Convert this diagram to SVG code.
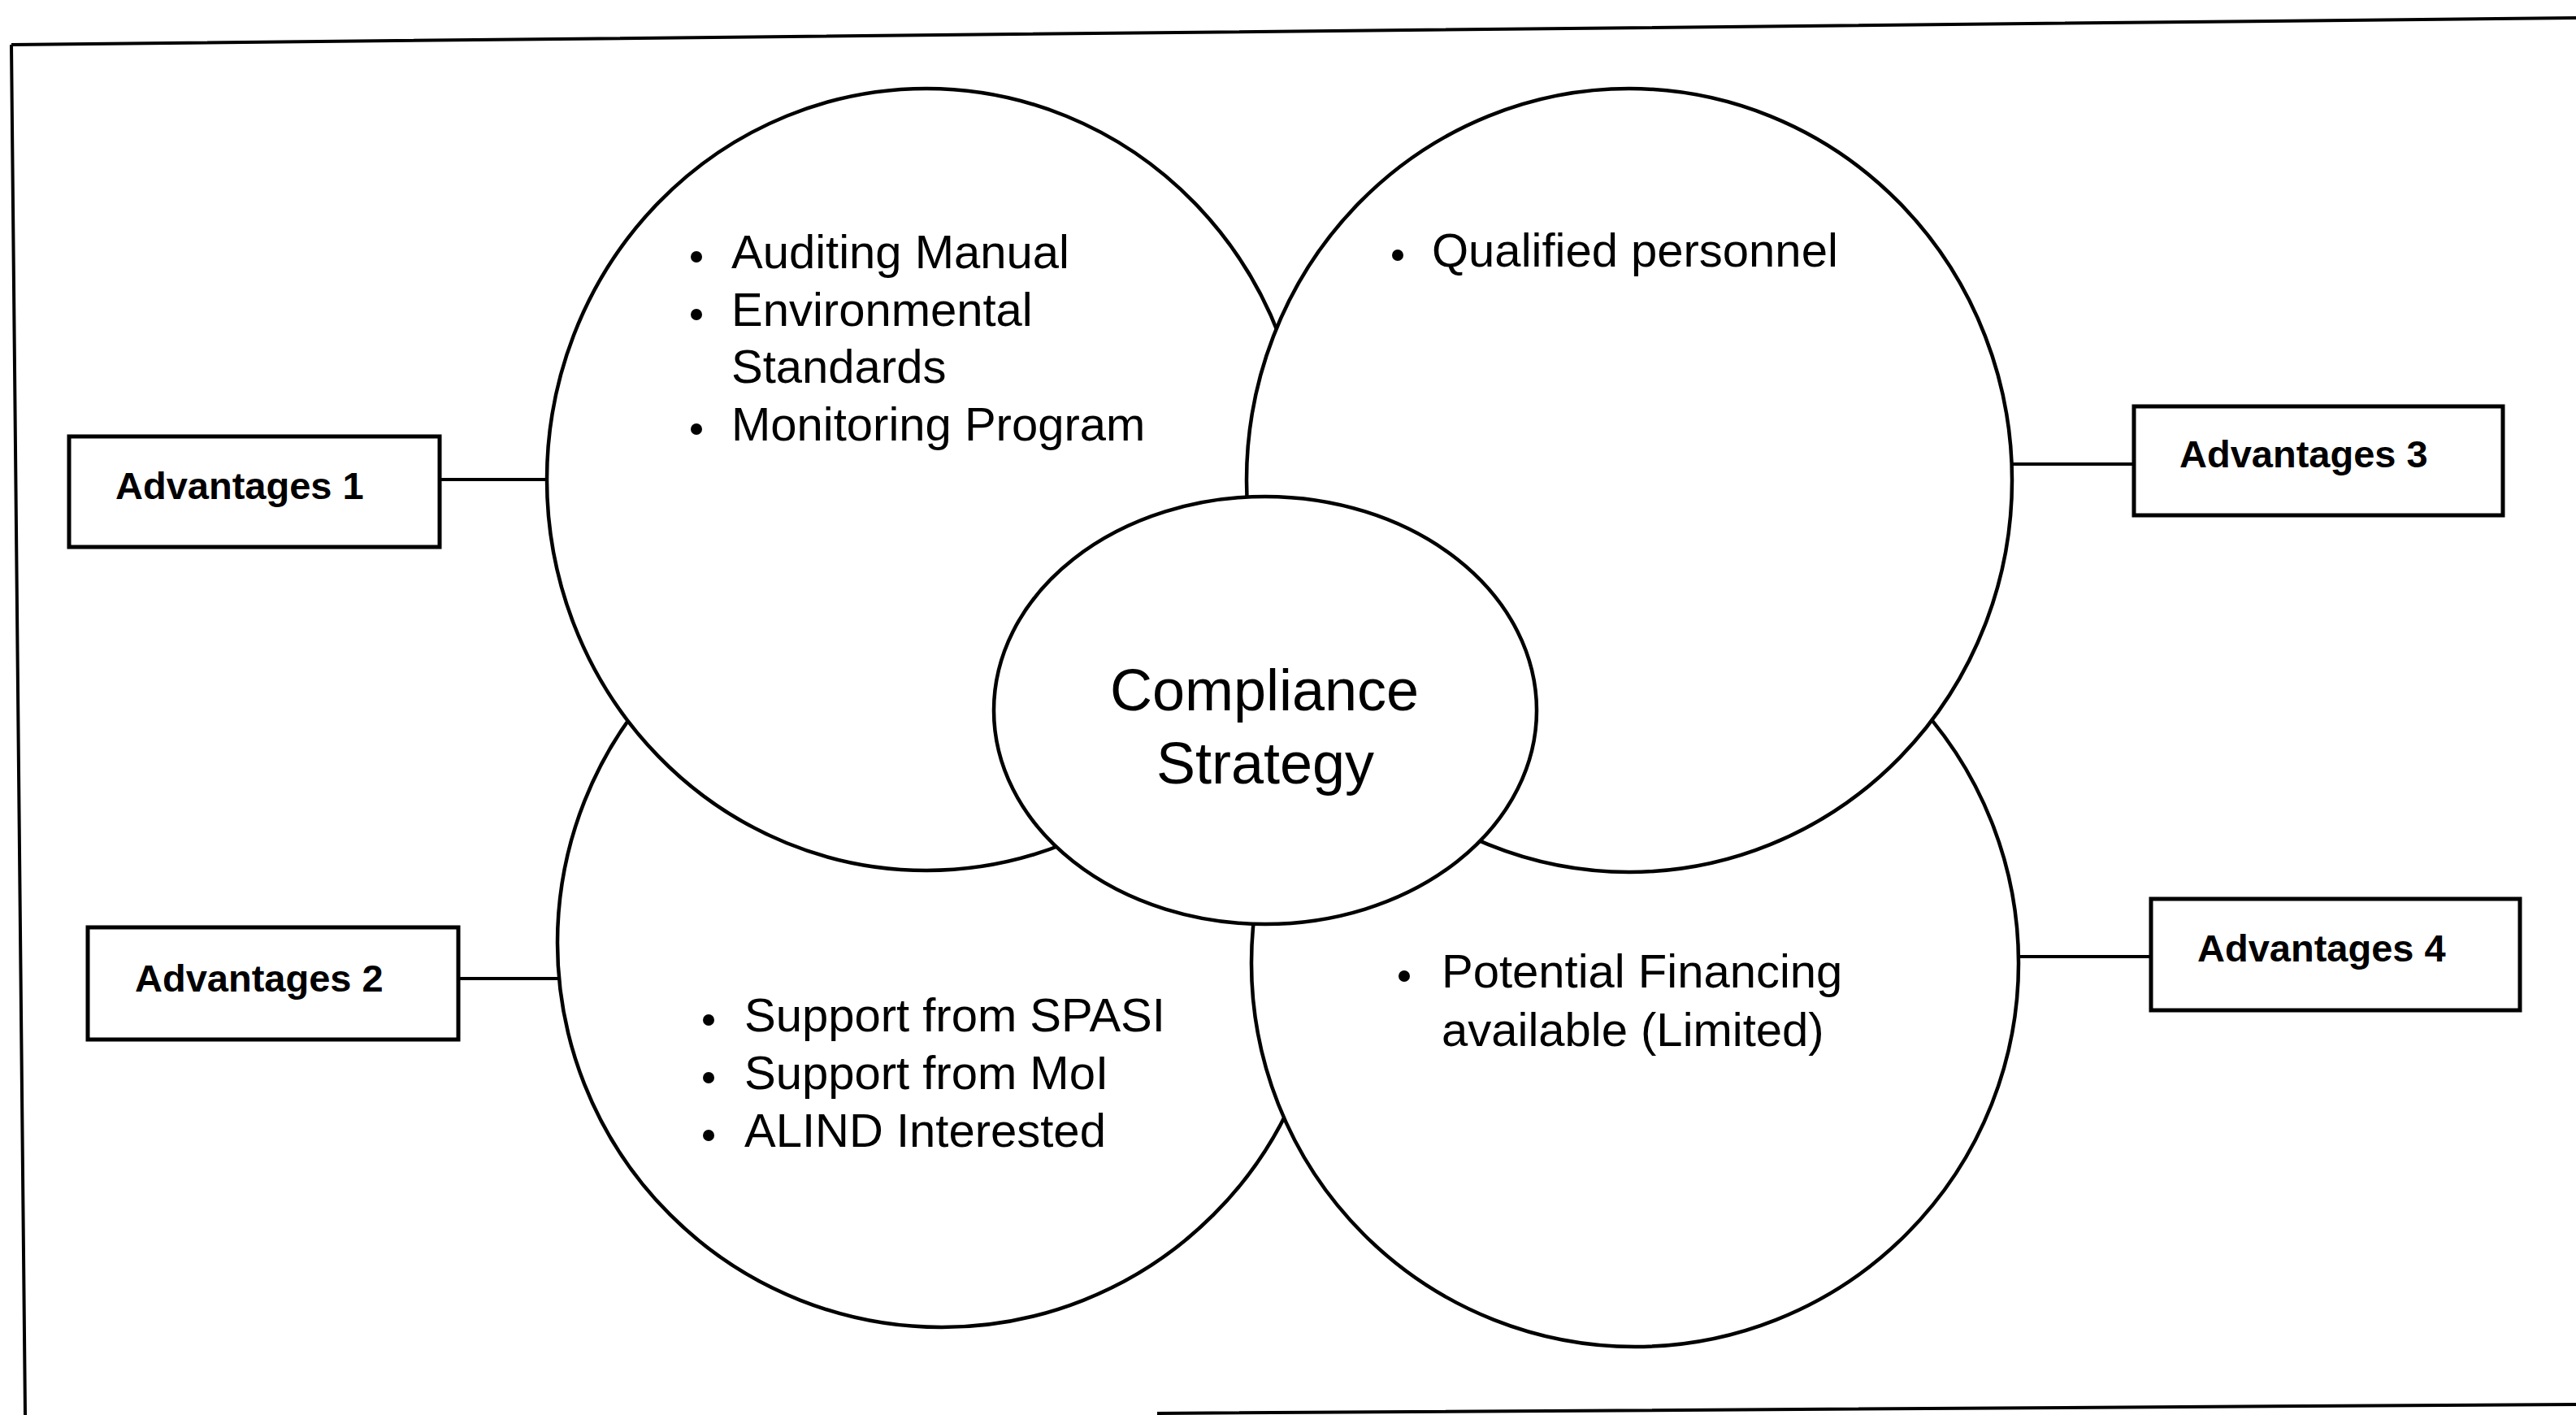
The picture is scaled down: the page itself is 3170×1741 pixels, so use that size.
<svg xmlns="http://www.w3.org/2000/svg" width="3170" height="1741" viewBox="0 0 3170 1741">
<style>
.frame{fill:none;stroke:#000;stroke-width:4}
.ring{fill:#fff;stroke:#000;stroke-width:4.5}
.box{fill:#fff;stroke:#000;stroke-width:5}
.conn{stroke:#000;stroke-width:4;fill:none}
.item{font-family:"Liberation Sans",Arial,sans-serif;font-size:58px;fill:#000}
.lbl{font-family:"Liberation Sans",Arial,sans-serif;font-size:47px;font-weight:bold;fill:#000}
.core{font-family:"Liberation Sans",Arial,sans-serif;font-size:72px;fill:#000;text-anchor:middle}
.dot{fill:#000}
</style>
<rect width="3170" height="1741" fill="#fff"/>
<g id="frame">
<path class="frame" d="M14,55 L3170,22 M14,55 L31,1741 M1424,1739 L3170,1728"/>
</g>
<g id="connectors">
<line class="conn" x1="541" y1="590" x2="692" y2="590"/>
<line class="conn" x1="564" y1="1204" x2="694" y2="1204"/>
<line class="conn" x1="2474" y1="571" x2="2626" y2="571"/>
<line class="conn" x1="2466" y1="1177" x2="2647" y2="1177"/>
</g>
<g id="circle-bottom-left">
<circle class="ring" cx="1159" cy="1160" r="473"/>
<circle class="dot" cx="872" cy="1255" r="7"/>
<circle class="dot" cx="872" cy="1326" r="7"/>
<circle class="dot" cx="872" cy="1397" r="7"/>
<text class="item" x="916" y="1269">Support from SPASI</text>
<text class="item" x="916" y="1340">Support from MoI</text>
<text class="item" x="916" y="1411">ALIND Interested</text>
</g>
<g id="circle-top-left">
<ellipse class="ring" cx="1140" cy="590" rx="467" ry="481"/>
<circle class="dot" cx="857" cy="316" r="7"/>
<circle class="dot" cx="857" cy="387" r="7"/>
<circle class="dot" cx="857" cy="528" r="7"/>
<text class="item" x="900" y="330">Auditing Manual</text>
<text class="item" x="900" y="401">Environmental</text>
<text class="item" x="900" y="471">Standards</text>
<text class="item" x="900" y="542">Monitoring Program</text>
</g>
<g id="circle-bottom-right">
<circle class="ring" cx="2012" cy="1185" r="472"/>
<circle class="dot" cx="1728" cy="1201" r="7"/>
<text class="item" x="1774" y="1215">Potential Financing</text>
<text class="item" x="1774" y="1287">available (Limited)</text>
</g>
<g id="circle-top-right">
<ellipse class="ring" cx="2005" cy="591" rx="471" ry="482"/>
<circle class="dot" cx="1720" cy="314" r="7"/>
<text class="item" x="1762" y="328">Qualified personnel</text>
</g>
<g id="compliance-strategy">
<ellipse class="ring" cx="1557" cy="874" rx="334" ry="263"/>
<text class="core" x="1556" y="874">Compliance</text>
<text class="core" x="1557" y="964">Strategy</text>
</g>
<g id="advantages-1">
<rect class="box" x="85" y="537" width="456" height="136"/>
<text class="lbl" x="142" y="614">Advantages 1</text>
</g>
<g id="advantages-2">
<rect class="box" x="108" y="1141" width="456" height="138"/>
<text class="lbl" x="166" y="1220">Advantages 2</text>
</g>
<g id="advantages-3">
<rect class="box" x="2626" y="500" width="454" height="134"/>
<text class="lbl" x="2682" y="575">Advantages 3</text>
</g>
<g id="advantages-4">
<rect class="box" x="2647" y="1106" width="454" height="137"/>
<text class="lbl" x="2704" y="1183">Advantages 4</text>
</g>
</svg>
